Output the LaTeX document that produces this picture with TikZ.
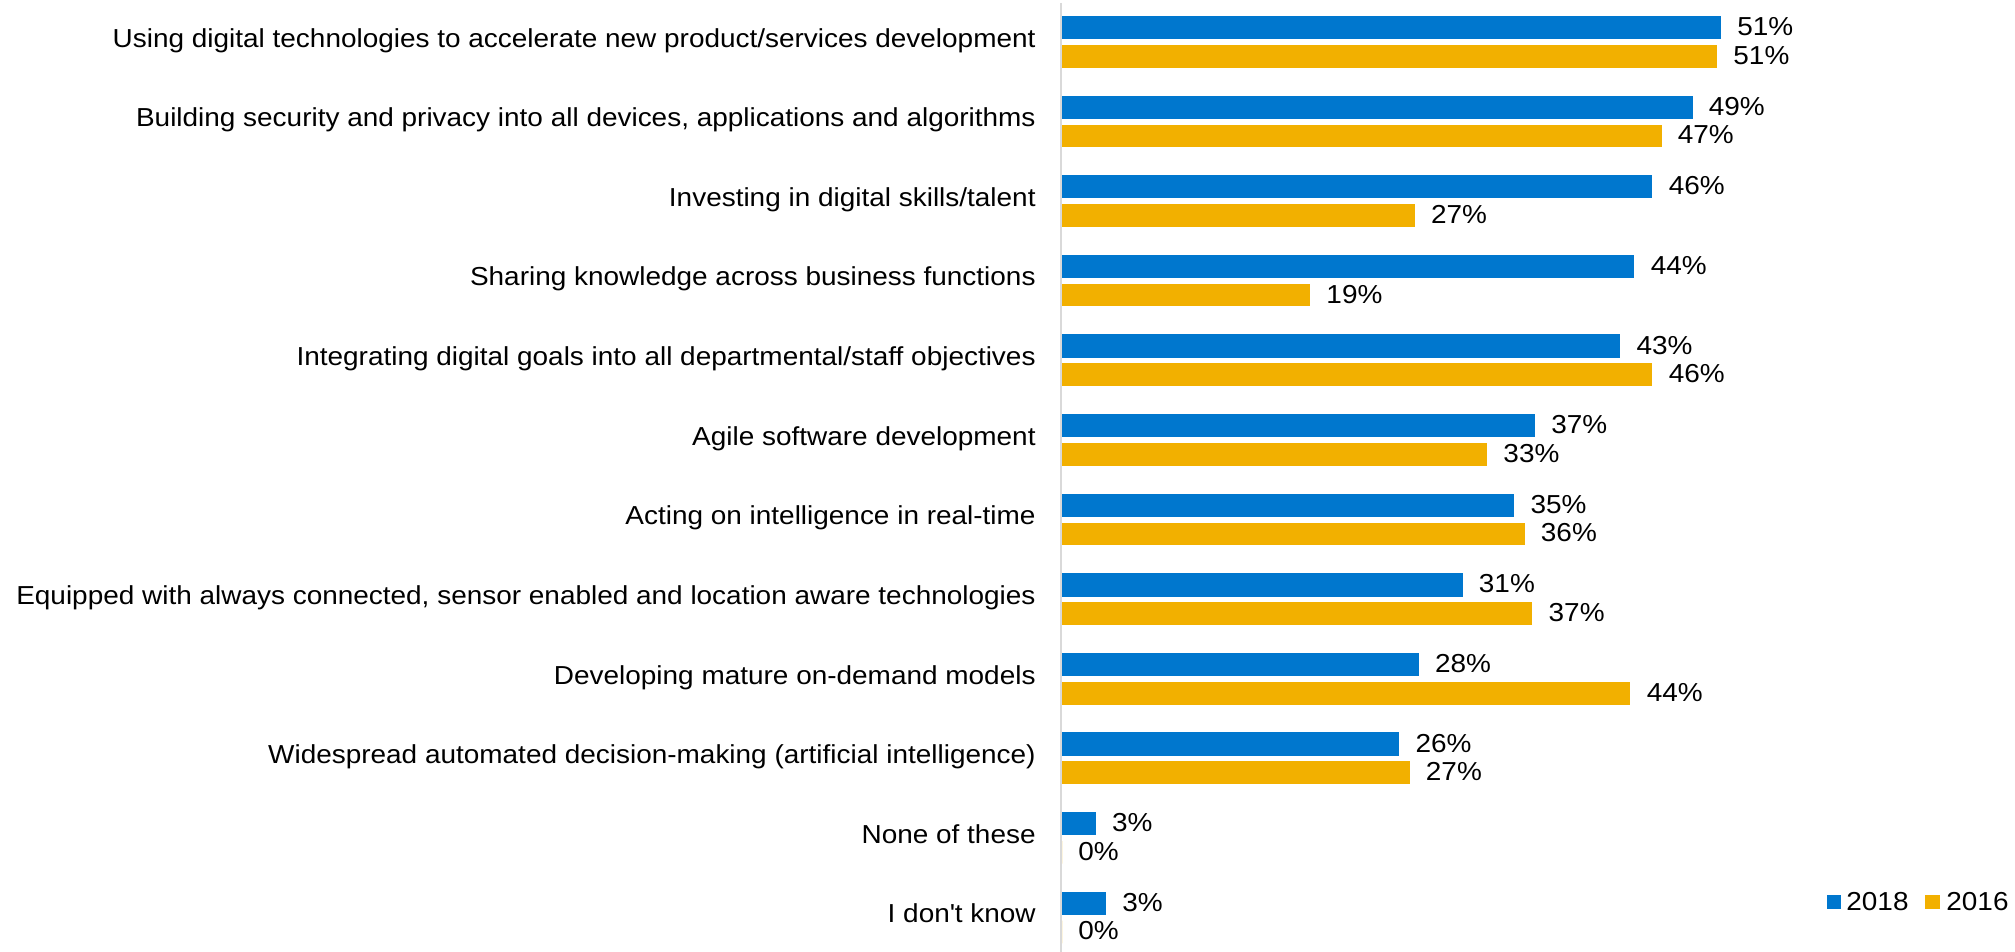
\documentclass[tikz,border=0pt]{standalone}
\usepackage{fontspec}
\setmainfont{Liberation Sans}[FakeStretch=1.075]
\definecolor{blue18}{RGB}{0,119,206}
\definecolor{gold16}{RGB}{242,176,0}
\definecolor{axisgray}{RGB}{217,217,217}

\begin{document}
\begin{tikzpicture}[
	x=0.5pt, y=-0.5pt, font=\fontsize{13}{15.6}\selectfont,
	cat/.style={anchor=east, inner sep=0pt, text height=0.75em, text depth=0.25em},
	val/.style={anchor=west, inner sep=0pt, text height=0.95em, text depth=0.15em},
	bar18/.style={fill=blue18},
	bar16/.style={fill=gold16}]
	%\draw [help lines] (0,0) grid[step=100] (2015,952);
	\useasboundingbox (0,0) rectangle (2015,952);
	\draw [axisgray, line width=1pt] (1061,3) -- (1061,952);
	\foreach \lbl/\a/\ta/\b/\tb [count=\i from 0] in {
		{Using digital technologies to accelerate new product/services development}/51.0/51/50.7/51,
		{Building security and privacy into all devices, applications and algorithms}/48.8/49/46.4/47,
		{Investing in digital skills/talent}/45.7/46/27.3/27,
		{Sharing knowledge across business functions}/44.3/44/19.2/19,
		{Integrating digital goals into all departmental/staff objectives}/43.2/43/45.7/46,
		{Agile software development}/36.6/37/32.9/33,
		{Acting on intelligence in real-time}/35.0/35/35.8/36,
		{Equipped with always connected, sensor enabled and location aware technologies}/31.0/31/36.4/37,
		{Developing mature on-demand models}/27.6/28/44.0/44,
		{Widespread automated decision-making (artificial intelligence)}/26.1/26/26.9/27,
		{None of these}/2.6/3/0/0,
		{I don\textquotesingle t know}/3.4/3/0/0}{
		\pgfmathsetmacro{\yy}{79.6*\i}
		\node [cat] (c\i) at (1036,42.2+\yy) {\lbl};
		\fill [bar18] (1062,16+\yy) rectangle ++(12.92*\a,23.3);
		\fill [bar16] (1062,45+\yy) rectangle ++(12.92*\b,22.7);
		\node [val] (a\i) at (1078+12.92*\a,27.65+\yy) {\ta\%};
		\node [val] (b\i) at (1078+12.92*\b,56.35+\yy) {\tb\%};
	}
	% legend
	\fill [bar18] (1827,895) rectangle (1841,909);
	\node [val] (l18) at (1846,902) {2018};
	\fill [bar16] (1925,895) rectangle (1940,909);
	\node [val] (l16) at (1946,902) {2016};
\end{tikzpicture}
\end{document}
